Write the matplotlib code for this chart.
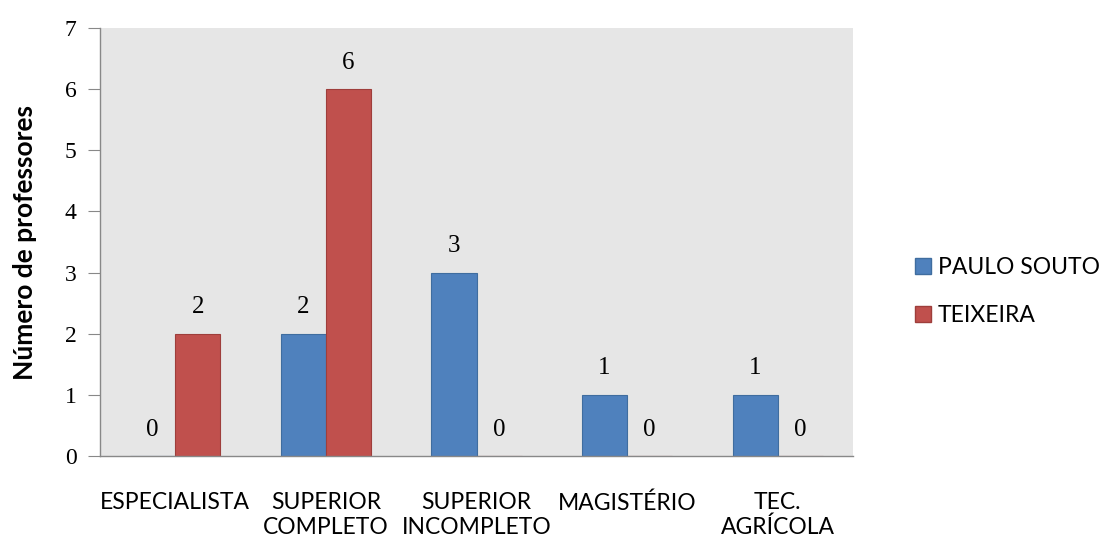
import matplotlib
matplotlib.use("Agg")
import matplotlib.pyplot as plt
import numpy as np
from matplotlib.patches import Patch

categories = ["ESPECIALISTA", "SUPERIOR\nCOMPLETO", "SUPERIOR\nINCOMPLETO", "MAGISTÉRIO", "TEC.\nAGRÍCOLA"]
series_names = ["PAULO SOUTO", "TEIXEIRA"]
paulo_souto = [0, 2, 3, 1, 1]
teixeira = [2, 6, 0, 0, 0]
y_ticks = [0, 1, 2, 3, 4, 5, 6, 7]

blue = "#4f81bd"
red = "#c0504d"
sans = ["Lato", "DejaVu Sans"]
serif = ["Liberation Serif", "DejaVu Serif"]

fig = plt.figure(figsize=(11.05, 5.41), dpi=100)
ax = fig.add_axes([100 / 1105, 1 - 456 / 541, 753 / 1105, 428 / 541])
ax.set_facecolor("#e6e6e6")

x = np.arange(len(categories))
w = 0.3
bars_a = ax.bar(x - w / 2, paulo_souto, w, color=blue, edgecolor="#3f6d9f", linewidth=0.8, zorder=2)
bars_b = ax.bar(x + w / 2, teixeira, w, color=red, edgecolor="#9e3e3b", linewidth=0.8, zorder=2)

for bars, vals in ((bars_a, paulo_souto), (bars_b, teixeira)):
    for b, v in zip(bars, vals):
        ax.annotate(str(v), (b.get_x() + b.get_width() / 2, v),
                    xytext=(0, 19), textcoords="offset points",
                    ha="center", va="center", fontsize=18, family=serif, color="black")

ax.set_xlim(-0.5, len(categories) - 0.5)
ax.set_ylim(0, 7)
ax.set_yticks(y_ticks)
ax.set_yticklabels([str(t) for t in y_ticks], family=serif, fontsize=17, color="black")
ax.set_xticks(x)
ax.set_xticklabels(categories, family=sans, fontsize=16.5, linespacing=1.2, color="black")
ax.tick_params(axis="x", length=0, pad=26)
ax.tick_params(axis="y", length=9, color="#888888", pad=8)

for s in ("top", "right"):
    ax.spines[s].set_visible(False)
for s in ("left", "bottom"):
    ax.spines[s].set_color("#888888")
    ax.spines[s].set_linewidth(1.0)
ax.spines["bottom"].set_bounds(-0.5, len(categories) - 0.5)

ax.set_ylabel("Número de professores", family=sans, fontsize=19, fontweight="bold",
              labelpad=20, color="black")

handles = [Patch(facecolor=blue, edgecolor="#3f6d9f"), Patch(facecolor=red, edgecolor="#9e3e3b")]
fig.legend(handles, series_names, loc="upper left", bbox_to_anchor=(894 / 1105, 1 - 236 / 541),
           frameon=False, prop={"family": sans, "size": 16.5}, labelspacing=1.2,
           handlelength=0.7, handleheight=0.7, handletextpad=0.3)

fig.savefig("out.png", dpi=100)
